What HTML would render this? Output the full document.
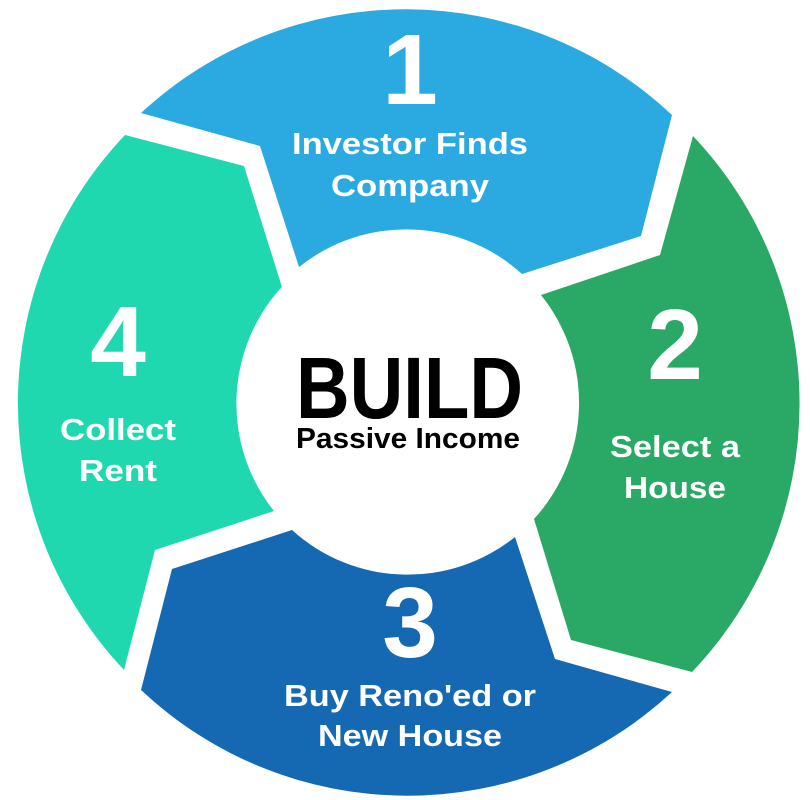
<!DOCTYPE html>
<html><head><meta charset="utf-8"><style>
html,body{margin:0;padding:0;background:#fff;}
svg{display:block;}
text{font-family:"Liberation Sans",sans-serif;font-weight:bold;}
</style></head><body>
<svg width="810" height="800" viewBox="0 0 810 800" xmlns="http://www.w3.org/2000/svg">
<rect width="810" height="800" fill="#fff"/>
<path d="M141,113 A389,389 0 0 1 672,115 L641,236 L522,274 A172,172 0 0 0 299,267 L260,146 Z" fill="#2ba9e1"/>
<path d="M693,136 A389,389 0 0 1 692,672 L571,640 L534,519 A172,172 0 0 0 541,295 L660,255 Z" fill="#2aa865"/>
<path d="M672,692 A389,389 0 0 1 141,690 L172,569 L292,530 A172,172 0 0 0 515,537 L555,659 Z" fill="#1569b3"/>
<path d="M124,670 A389,389 0 0 1 125,135 L244,166 L282,287 A172,172 0 0 0 274,511 L155,550 Z" fill="#20d8b0"/>
<circle cx="407" cy="402" r="170" fill="#fff"/>
<g fill="#fff" text-anchor="middle">
<text x="410" y="104" font-size="100">1</text>
<text x="410" y="154" font-size="31" textLength="236" lengthAdjust="spacingAndGlyphs">Investor Finds</text>
<text x="410" y="196" font-size="31" textLength="158" lengthAdjust="spacingAndGlyphs">Company</text>
<text x="675" y="379" font-size="100">2</text>
<text x="675" y="457" font-size="31" textLength="130" lengthAdjust="spacingAndGlyphs">Select a</text>
<text x="675" y="498" font-size="31" textLength="102" lengthAdjust="spacingAndGlyphs">House</text>
<text x="410" y="657" font-size="100">3</text>
<text x="410" y="706" font-size="31" textLength="252" lengthAdjust="spacingAndGlyphs">Buy Reno'ed or</text>
<text x="410" y="746" font-size="31" textLength="184" lengthAdjust="spacingAndGlyphs">New House</text>
<text x="118" y="376" font-size="100">4</text>
<text x="118" y="440" font-size="31" textLength="116" lengthAdjust="spacingAndGlyphs">Collect</text>
<text x="118" y="481" font-size="31" textLength="78" lengthAdjust="spacingAndGlyphs">Rent</text>
</g>
<g fill="#000">
<text x="296" y="418" font-size="87" textLength="227" lengthAdjust="spacingAndGlyphs">BUILD</text>
<text x="296" y="448" font-size="29" textLength="224" lengthAdjust="spacingAndGlyphs">Passive Income</text>
</g>
</svg>
</body></html>
